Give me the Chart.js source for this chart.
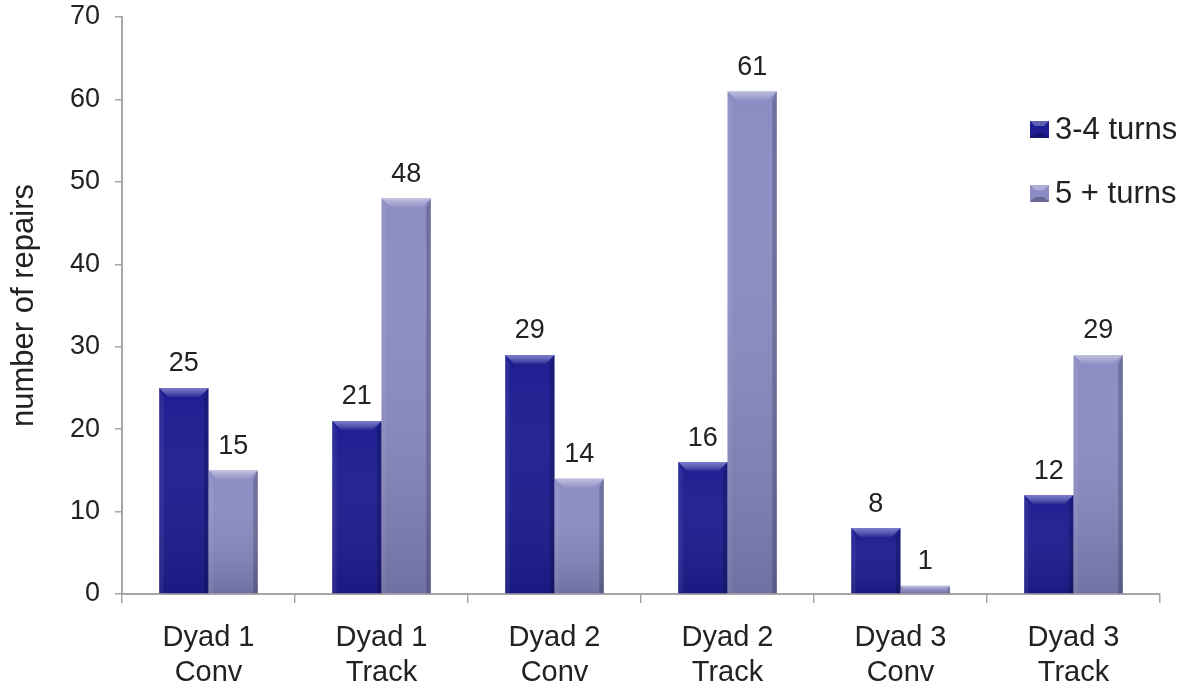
<!DOCTYPE html>
<html>
<head>
<meta charset="utf-8">
<script src="https://cdn.jsdelivr.net/npm/chart.js@4"></script>
<style>
  html, body { margin: 0; padding: 0; background: #fff; }
  #wrap { width: 1184px; height: 690px; }
</style>
</head>
<body>
<div id="wrap"><canvas id="repairs"></canvas></div>
<script>
const categories = [
    ['Dyad 1', 'Conv'], ['Dyad 1', 'Track'],
    ['Dyad 2', 'Conv'], ['Dyad 2', 'Track'],
    ['Dyad 3', 'Conv'], ['Dyad 3', 'Track']
];
const seriesNames = ['3-4 turns', '5 + turns'];
const turns34 = [25, 21, 29, 16, 8, 12];
const turns5plus = [15, 48, 14, 61, 1, 29];
const yTicks = [0, 10, 20, 30, 40, 50, 60, 70];

const FONT = "'Liberation Sans', Arial, sans-serif";
const TEXT = '#222';
const AXIS = '#a6a6a6';
const barColors = ['#1e1e92', '#8c8cc4'];

// bevel + shading painted over each bar the library draws
const bevelPlugin = {
    id: 'bevel',
    afterDatasetsDraw(chart) {
        const c = chart.ctx;
        chart.data.datasets.forEach((ds, i) => {
            chart.getDatasetMeta(i).data.forEach(bar => {
                const { x, y, base, width } = bar.getProps(['x', 'y', 'base', 'width'], true);
                const l = x - width / 2, r = x + width / 2;
                const h = base - y;
                const b = Math.min(9, h / 2);
                c.save();
                const g = c.createLinearGradient(0, y, 0, base);
                g.addColorStop(0, 'rgba(255,255,255,0)');
                g.addColorStop(1, i === 0 ? 'rgba(0,0,30,0.15)' : 'rgba(0,0,30,0.2)');
                c.fillStyle = g;
                c.fillRect(l, y, width, h);
                // top bevel
                const tg = c.createLinearGradient(0, y, 0, y + b);
                tg.addColorStop(0, i === 0 ? 'rgba(200,200,255,0.55)' : 'rgba(255,255,255,0.45)');
                tg.addColorStop(1, 'rgba(255,255,255,0.05)');
                c.fillStyle = tg;
                c.beginPath();
                c.moveTo(l, y); c.lineTo(r, y); c.lineTo(r - b, y + b); c.lineTo(l + b, y + b);
                c.closePath(); c.fill();
                // left edge
                c.fillStyle = 'rgba(255,255,255,0.06)';
                c.beginPath();
                c.moveTo(l, y); c.lineTo(l + b / 2, y + b); c.lineTo(l + b / 2, base); c.lineTo(l, base);
                c.closePath(); c.fill();
                // right edge
                c.fillStyle = 'rgba(0,0,20,0.2)';
                c.beginPath();
                c.moveTo(r, y); c.lineTo(r - b / 2, y + b); c.lineTo(r - b / 2, base); c.lineTo(r, base);
                c.closePath(); c.fill();
                c.restore();
            });
        });
    }
};

// value above every bar
const valueLabels = {
    id: 'valueLabels',
    afterDatasetsDraw(chart) {
        const c = chart.ctx;
        c.save();
        c.font = `27px ${FONT}`;
        c.fillStyle = TEXT;
        c.textAlign = 'center';
        c.textBaseline = 'middle';
        chart.data.datasets.forEach((ds, i) => {
            chart.getDatasetMeta(i).data.forEach((bar, j) => {
                c.fillText(String(ds.data[j]), bar.x, bar.y - 24);
            });
        });
        c.restore();
    }
};

// legend boxes sitting inside the plot, top right
const sideLegend = {
    id: 'sideLegend',
    afterDraw(chart) {
        const c = chart.ctx;
        c.save();
        c.font = `31px ${FONT}`;
        c.textBaseline = 'middle';
        chart.data.datasets.forEach((ds, i) => {
            const cy = 130 + i * 64;
            const bx = 1030, by = cy - 9, bw = 19, bh = 17;
            c.fillStyle = ds.backgroundColor;
            c.fillRect(bx, by, bw, bh);
            c.fillStyle = 'rgba(255,255,255,0.3)';
            c.beginPath();
            c.moveTo(bx, by); c.lineTo(bx + bw, by); c.lineTo(bx + bw - 5, by + 5); c.lineTo(bx + 5, by + 5);
            c.closePath(); c.fill();
            c.fillStyle = 'rgba(0,0,20,0.25)';
            c.beginPath();
            c.moveTo(bx, by + bh); c.lineTo(bx + bw, by + bh); c.lineTo(bx + bw - 5, by + bh - 5); c.lineTo(bx + 5, by + bh - 5);
            c.closePath(); c.fill();
            c.fillStyle = TEXT;
            c.fillText(ds.label, 1055, cy);
        });
        c.restore();
    }
};

new Chart(document.getElementById('repairs').getContext('2d'), {
    type: 'bar',
    data: {
        labels: categories,
        datasets: [
            { label: seriesNames[0], data: turns34, backgroundColor: barColors[0] },
            { label: seriesNames[1], data: turns5plus, backgroundColor: barColors[1] }
        ]
    },
    options: {
        responsive: true,
        maintainAspectRatio: false,
        animation: false,
        devicePixelRatio: 1,
        categoryPercentage: 0.57,
        barPercentage: 1,
        layout: { padding: { left: 0, top: 17, right: 24, bottom: 0 } },
        plugins: {
            legend: { display: false },
            tooltip: { enabled: false }
        },
        scales: {
            x: {
                afterFit: s => { s.height = 96; },
                border: { color: AXIS, width: 2 },
                grid: { drawOnChartArea: false, color: AXIS, tickLength: 9, lineWidth: 1.5 },
                ticks: {
                    color: TEXT,
                    padding: 18,
                    font: { family: FONT, size: 29 }
                }
            },
            y: {
                min: 0,
                max: 70,
                afterFit: s => { s.width = 122; s.paddingTop = 0; s.paddingBottom = 0; },
                afterBuildTicks: s => { s.ticks = yTicks.map(v => ({ value: v })); },
                border: { color: AXIS, width: 2 },
                grid: { drawOnChartArea: false, color: AXIS, tickLength: 7, lineWidth: 1.5 },
                ticks: {
                    color: TEXT,
                    padding: 15,
                    font: { family: FONT, size: 27 }
                },
                title: {
                    display: true,
                    text: 'number of repairs',
                    color: TEXT,
                    padding: { top: 6, bottom: 0 },
                    font: { family: FONT, size: 31 }
                }
            }
        }
    },
    plugins: [bevelPlugin, valueLabels, sideLegend]
});
</script>
</body>
</html>
